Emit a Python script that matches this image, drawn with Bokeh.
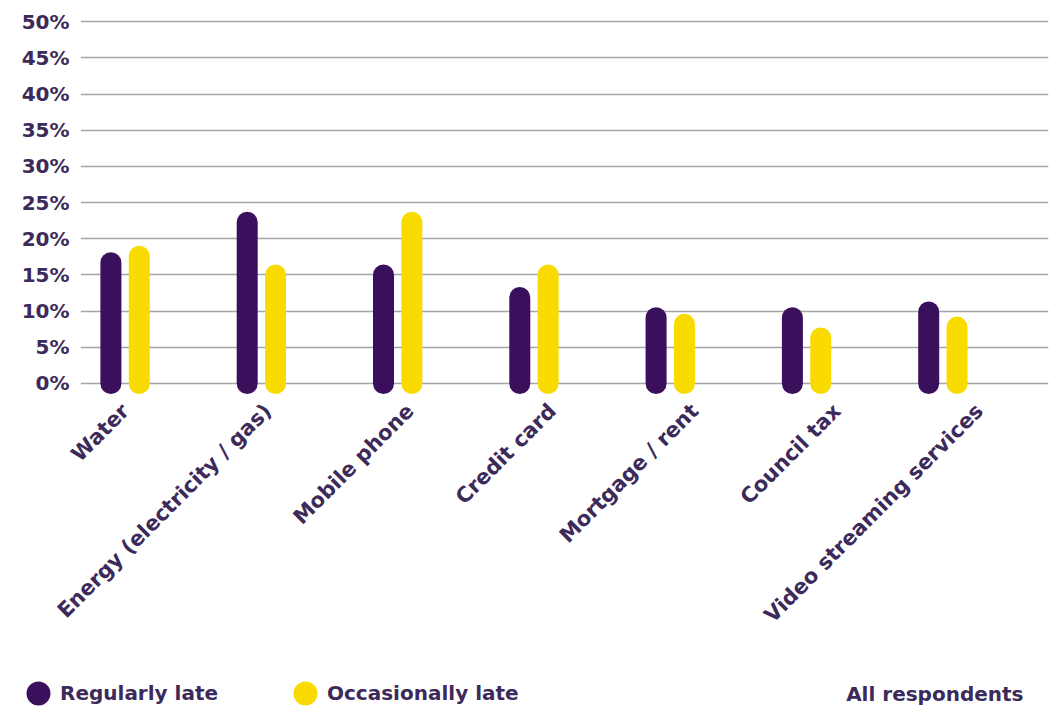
from bokeh.plotting import figure
from bokeh.models import (ColumnDataSource, FixedTicker, PrintfTickFormatter, Range1d,
                          Legend, LegendItem, Label, LinearAxis)
from bokeh.layouts import column
from bokeh.embed import file_html
from bokeh.resources import INLINE

categories = ["Water", "Energy (electricity / gas)", "Mobile phone", "Credit card",
              "Mortgage / rent", "Council tax", "Video streaming services"]
regularly_late = [16.7, 22.3, 15.0, 11.9, 9.1, 9.1, 9.9]
occasionally_late = [17.6, 15.0, 22.3, 15.0, 8.2, 6.3, 7.8]
y_ticks = [0, 5, 10, 15, 20, 25, 30, 35, 40, 45, 50]
series_names = ["Regularly late", "Occasionally late"]
footnote = "All respondents"

PURPLE = "#3a0f5c"
YELLOW = "#fadb00"
TEXT = "#3c2a5a"
FONT = "DejaVu Sans"

idx = list(range(len(categories)))
dodge = 0.104
src_r = ColumnDataSource(dict(x=[i - dodge for i in idx], y0=[0] * len(idx), y1=regularly_late))
src_o = ColumnDataSource(dict(x=[i + dodge for i in idx], y0=[0] * len(idx), y1=occasionally_late))

p = figure(width=1055, height=656, output_backend="svg", toolbar_location=None,
           x_range=Range1d(-0.327, 6.775), y_range=Range1d(-1.66, 50.32),
           min_border_left=80, min_border_right=7, min_border_top=19, min_border_bottom=261,
           x_axis_location=None)
p.outline_line_color = None
p.extra_x_ranges = {"labels": Range1d(-0.316, 6.485)}

r1 = p.segment(x0="x", y0="y0", x1="x", y1="y1", source=src_r, line_color=PURPLE,
               line_width=21, line_cap="round")
r2 = p.segment(x0="x", y0="y0", x1="x", y1="y1", source=src_o, line_color=YELLOW,
               line_width=21, line_cap="round")

# category axis
xaxis = LinearAxis(x_range_name="labels")
xaxis.ticker = FixedTicker(ticks=idx)
xaxis.major_label_overrides = {i: c for i, c in zip(idx, categories)}
xaxis.major_label_orientation = 0.785398
xaxis.axis_line_color = None
xaxis.major_tick_line_color = None
xaxis.minor_tick_line_color = None
xaxis.major_label_standoff = 6
xaxis.major_label_text_font = FONT
xaxis.major_label_text_font_style = "bold"
xaxis.major_label_text_font_size = "21px"
xaxis.major_label_text_color = TEXT
p.add_layout(xaxis, "below")

p.yaxis.ticker = FixedTicker(ticks=y_ticks)
p.yaxis.formatter = PrintfTickFormatter(format="%d%%")
p.yaxis.axis_line_color = None
p.yaxis.major_tick_line_color = None
p.yaxis.minor_tick_line_color = None
p.yaxis.major_label_standoff = 5
p.yaxis.major_label_text_font = FONT
p.yaxis.major_label_text_font_style = "bold"
p.yaxis.major_label_text_font_size = "20px"
p.yaxis.major_label_text_color = TEXT

p.xgrid.visible = False
p.ygrid.ticker = FixedTicker(ticks=y_ticks)
p.ygrid.grid_line_color = "#a5a5a5"
p.ygrid.grid_line_width = 1.6

# legend strip
q = figure(width=1055, height=50, output_backend="svg", toolbar_location=None,
           x_range=Range1d(0, 1055), y_range=Range1d(0, 50),
           min_border=0, min_border_left=0, min_border_right=0,
           min_border_top=0, min_border_bottom=0, x_axis_location=None, y_axis_location=None)
if "frame_align" in q.properties():
    q.frame_align = False
q.outline_line_color = None
q.grid.visible = False
nan = float("nan")
lr1 = q.scatter(x="x", y="y", source=ColumnDataSource(dict(x=[nan], y=[nan])),
                marker="circle", size=24, fill_color=PURPLE, line_color=PURPLE, line_width=8)
lr2 = q.scatter(x="x", y="y", source=ColumnDataSource(dict(x=[nan], y=[nan])),
                marker="circle", size=24, fill_color=YELLOW, line_color=YELLOW, line_width=8)

legend = Legend(items=[LegendItem(label=series_names[0], renderers=[lr1]),
                       LegendItem(label=series_names[1], renderers=[lr2])],
                orientation="horizontal", location=(18, -7),
                glyph_width=40, glyph_height=40, label_standoff=2, label_width=200,
                spacing=25, padding=0, margin=0, border_line_color=None,
                background_fill_alpha=0, label_text_font=FONT,
                label_text_font_style="bold", label_text_font_size="20px",
                label_text_color=TEXT, label_height=24)
q.add_layout(legend, "center")

lab = Label(x=1023, y=13, x_units="screen", y_units="screen", text=footnote,
            text_align="right", text_baseline="middle", text_font=FONT,
            text_font_style="bold", text_font_size="20px", text_color=TEXT)
q.add_layout(lab)

open("out.html", "w").write(file_html(column(p, q, spacing=0), INLINE))
